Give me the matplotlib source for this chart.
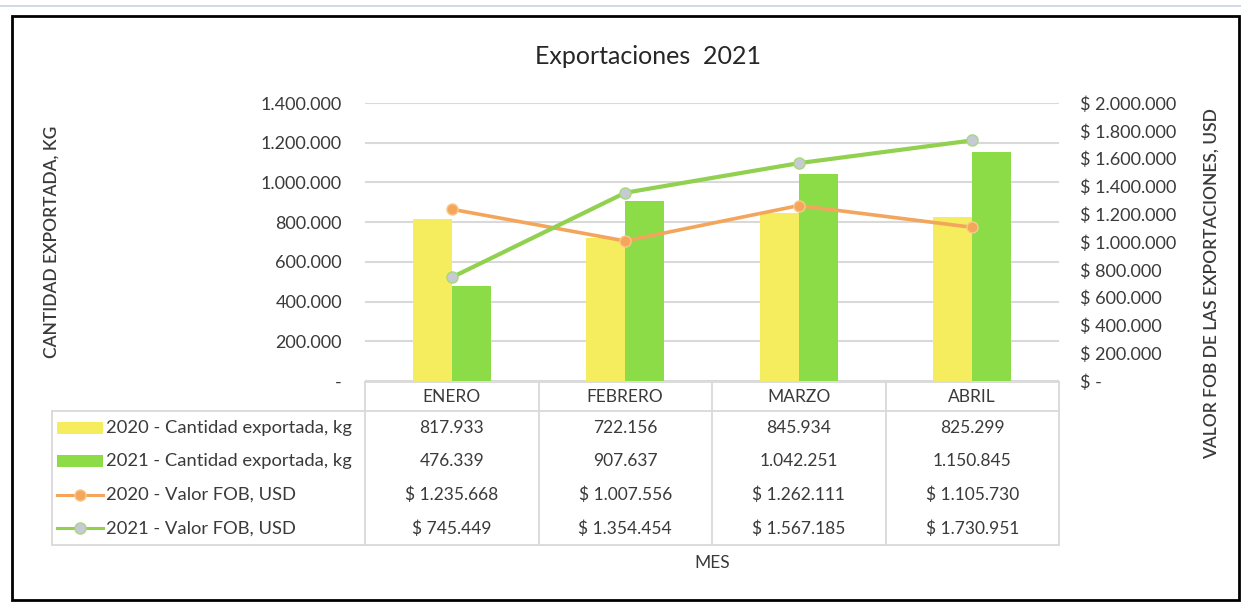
import matplotlib.pyplot as plt
import matplotlib.transforms as mtransforms
from matplotlib.lines import Line2D
from matplotlib.patches import Rectangle

plt.rcParams['font.family'] = ['Lato', 'DejaVu Sans']

meses = ["ENERO", "FEBRERO", "MARZO", "ABRIL"]
kg_2020 = [817933, 722156, 845934, 825299]
kg_2021 = [476339, 907637, 1042251, 1150845]
usd_2020 = [1235668, 1007556, 1262111, 1105730]
usd_2021 = [745449, 1354454, 1567185, 1730951]

series_names = ["2020 - Cantidad exportada, kg", "2021 - Cantidad exportada, kg",
                "2020 - Valor FOB, USD", "2021 - Valor FOB, USD"]

AMARILLO = "#F5EC5E"
VERDE = "#8CDC48"
NARANJA = "#F4A55C"
VERDE_L = "#92D050"
GRIS_TXT = "#3A3A3A"
GRIS_LIN = "#D9D9D9"

W, H = 1241, 604
fig = plt.figure(figsize=(W / 100, H / 100), dpi=100)


def fx(x):
    return x / W


def fy(y):
    return 1 - y / H


def miles(v):
    return f"{v:,.0f}".replace(",", ".")


# marco exterior
fig.add_artist(Line2D([0, 1], [fy(6), fy(6)], color="#C9D1E3", lw=1.2))
fig.add_artist(Rectangle((fx(12), fy(600)), fx(1239) - fx(12), fy(16) - fy(600),
                         fill=False, ec="black", lw=2))

L, R, T, B = 365, 1059, 103, 381
ax = fig.add_axes([fx(L), fy(B), fx(R) - fx(L), fy(T) - fy(B)])
ax2 = ax.twinx()

x = list(range(len(meses)))
bw = 0.225
ax.bar([i - bw / 2 for i in x], kg_2020, bw, color=AMARILLO, zorder=2)
ax.bar([i + bw / 2 for i in x], kg_2021, bw, color=VERDE, zorder=2)
ax.set_xlim(-0.5, len(meses) - 0.5)
ax.set_ylim(0, 1400000)
ax.set_yticks(range(0, 1400001, 200000))
ax.set_yticklabels(["-" if v == 0 else miles(v) for v in range(0, 1400001, 200000)])
ax.grid(axis="y", color=GRIS_LIN, lw=1.5, zorder=0)
ax.set_axisbelow(True)
ax.set_xticks([])

ax2.plot(x, usd_2020, color=NARANJA, lw=2.6, marker="o", ms=8,
         mfc="#F5A65B", mec="#F9C98A", zorder=3)
ax2.plot(x, usd_2021, color=VERDE_L, lw=3, marker="o", ms=8,
         mfc="#C5CAD6", mec="#A8D878", zorder=4)
ax2.set_ylim(0, 2000000)
ax2.set_yticks(range(0, 2000001, 200000))
ax2.set_yticklabels(["$ -" if v == 0 else "$ " + miles(v)
                     for v in range(0, 2000001, 200000)], ha="left")

for a in (ax, ax2):
    for s in a.spines.values():
        s.set_visible(False)
    a.tick_params(length=0, labelsize=13, labelcolor=GRIS_TXT)
ax.tick_params(axis="y", pad=16.5)
ax2.tick_params(axis="y", pad=15)

fig.text(fx(648), fy(57), "Exportaciones  2021", fontsize=18, color="#262626",
         ha="center", va="center")
fig.text(fx(52), fy(242), "CANTIDAD EXPORTADA, KG", rotation=90, fontsize=12.5,
         color=GRIS_TXT, ha="center", va="center", fontweight="semibold")
fig.text(fx(1212), fy(284), "VALOR FOB DE LAS EXPORTACIONES, USD", rotation=90,
         fontsize=12.5, color=GRIS_TXT, ha="center", va="center", fontweight="semibold")
fig.text(fx(712), fy(563), "MES", fontsize=12.5, color=GRIS_TXT, ha="center", va="center")

# tabla de datos
trans = mtransforms.blended_transform_factory(ax.transData, fig.transFigure)
y_head_top, y_head_bot, y_bottom = 382, 411, 545
row_h = (y_bottom - y_head_bot) / 4
lkw = dict(color=GRIS_LIN, lw=1.3)

fig.add_artist(Line2D([-0.5, 3.5], [fy(y_head_top)] * 2, transform=trans, **lkw))
for yy in (y_head_bot, y_bottom):
    fig.add_artist(Line2D([fx(52), fx(R)], [fy(yy)] * 2, **lkw))
fig.add_artist(Line2D([fx(52), fx(52)], [fy(y_head_bot), fy(y_bottom)], **lkw))
for k in range(len(meses) + 1):
    fig.add_artist(Line2D([k - 0.5, k - 0.5], [fy(y_head_top), fy(y_bottom)],
                          transform=trans, **lkw))

for i, m in enumerate(meses):
    fig.text(i, fy((y_head_top + y_head_bot) / 2), m, transform=trans, ha="center",
             va="center", fontsize=12.5, color=GRIS_TXT)

filas = [
    [miles(v) for v in kg_2020],
    [miles(v) for v in kg_2021],
    ["$ " + miles(v) for v in usd_2020],
    ["$ " + miles(v) for v in usd_2021],
]
for r, fila in enumerate(filas):
    yc = fy(y_head_bot + row_h * (r + 0.5))
    for i, txt in enumerate(fila):
        fig.text(i, yc, txt, transform=trans, ha="center", va="center",
                 fontsize=12.5, color=GRIS_TXT)
    fig.text(fx(106), yc, series_names[r], ha="left", va="center",
             fontsize=13.2, color=GRIS_TXT)
    # claves de leyenda
    if r < 2:
        col = AMARILLO if r == 0 else VERDE
        fig.add_artist(Rectangle((fx(57), yc - 6 / H), fx(103) - fx(57), 12 / H,
                                 color=col, lw=0))
    else:
        col, mfc, mec = (NARANJA, "#F5A65B", "#F9C98A") if r == 2 else (VERDE_L, "#C5CAD6", "#A8D878")
        fig.add_artist(Line2D([fx(57), fx(103)], [yc, yc], color=col, lw=2.2))
        fig.add_artist(Line2D([fx(80)], [yc], marker="o", ms=8, mfc=mfc, mec=mec,
                              color=col))

fig.savefig("out.png", dpi=100)
